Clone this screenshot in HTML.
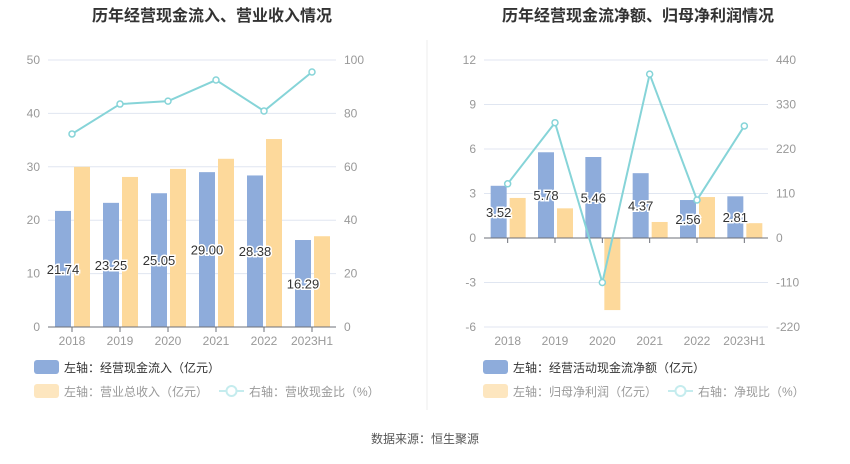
<!DOCTYPE html>
<html><head><meta charset="utf-8"><style>
body{margin:0;width:850px;height:459px;background:#fff;font-family:"Liberation Sans","Noto Sans CJK SC",sans-serif;overflow:hidden}
svg text{font-family:"Liberation Sans","Noto Sans CJK SC",sans-serif}
</style></head><body>
<svg id="c" width="850" height="459">
<text x="212" y="21" text-anchor="middle" font-size="16" font-weight="bold" fill="#333">历年经营现金流入、营业收入情况</text>
<text x="638" y="21" text-anchor="middle" font-size="16" font-weight="bold" fill="#333">历年经营现金流净额、归母净利润情况</text>
<line x1="427" y1="40" x2="427" y2="410" stroke="#eee"/>
<text x="425" y="443" text-anchor="middle" font-size="12" fill="#555">数据来源：恒生聚源</text>
</svg>
<script>
const categories=["2018","2019","2020","2021","2022","2023H1"];
const leftInflow=[21.74,23.25,25.05,29.00,28.38,16.29];
const leftRevenue=[30.0,28.1,29.6,31.5,35.2,17.0];
const leftRatio=[72.3,83.5,84.6,92.5,80.9,95.5];
const leftTicksL=[0,10,20,30,40,50];
const leftTicksR=[0,20,40,60,80,100];
const rightNetCash=[3.52,5.78,5.46,4.37,2.56,2.81];
const rightProfit=[2.7,2.0,-4.86,1.08,2.76,1.0];
const rightRatio=[134,285,-110,405,94,277];
const rightTicksL=[-6,-3,0,3,6,9,12];
const rightTicksR=[-220,-110,0,110,220,330,440];
const NS="http://www.w3.org/2000/svg";
const svg=document.getElementById('c');
function mk(tag,attrs,parent){const e=document.createElementNS(NS,tag);for(const k in attrs)e.setAttribute(k,attrs[k]);(parent||svg).appendChild(e);return e;}
function draw(o){
  const {x0,x1,yTop,yBot,lmin,lmax,rmin,rmax,ticksL,ticksR,blue,yellow,ratio,prefix,legend1,legend2,legend3,legX}=o;
  const yL=v=>yBot-(v-lmin)/(lmax-lmin)*(yBot-yTop);
  const yR=v=>yBot-(v-rmin)/(rmax-rmin)*(yBot-yTop);
  const bw=(x1-x0)/categories.length;
  const cx=i=>x0+bw*(i+0.5);
  ticksL.forEach((t,i)=>{
    const g=mk('line',{x1:x0,x2:x1,y1:yL(t),y2:yL(t),stroke:'#e0e6f1'});
    
    const a=mk('text',{x:x0-8,y:yL(t)+4,'text-anchor':'end','font-size':12,fill:'#999'});a.textContent=t;
    
    const b=mk('text',{x:x1+8,y:yR(ticksR[i])+4,'text-anchor':'start','font-size':12,fill:'#999'});b.textContent=ticksR[i];
    
  });
  const y0=yL(0);
  categories.forEach((c,i)=>{
    const bb=mk('rect',{x:cx(i)-17,y:Math.min(yL(blue[i]),y0),width:16,height:Math.abs(yL(blue[i])-y0),fill:'#8eacdb'});
    
    const yb=mk('rect',{x:cx(i)+2,y:Math.min(yL(yellow[i]),y0),width:16,height:Math.abs(yL(yellow[i])-y0),fill:'#fdd99b'});
    
    const tk=mk('line',{x1:cx(i),x2:cx(i),y1:y0,y2:y0+5,stroke:'#6e7079'});
    
    const xl=mk('text',{x:cx(i),y:yBot+18,'text-anchor':'middle','font-size':12,fill:'#999'});xl.textContent=c;
    
  });
  const ax=mk('line',{x1:x0,x2:x1,y1:y0,y2:y0,stroke:'#6e7079'});
  
  categories.forEach((c,i)=>{
    const v=blue[i];
    const lb=mk('text',{x:cx(i)-9,y:(yL(v)+y0)/2+5,'text-anchor':'middle','font-size':13,fill:'#333',stroke:'#fff','stroke-width':3,'paint-order':'stroke'});
    lb.textContent=v.toFixed(2);
    
  });
  const pts=ratio.map((v,i)=>cx(i)+','+yR(v)).join(' ');
  const pl=mk('polyline',{points:pts,fill:'none',stroke:'#86d4d8','stroke-width':2});
  
  ratio.forEach((v,i)=>{
    const p=mk('circle',{cx:cx(i),cy:yR(v),r:3,fill:'#fff',stroke:'#86d4d8','stroke-width':1.5});
    
  });
  // legend
  const s1=mk('rect',{x:legX,y:360,width:25,height:14,rx:3,fill:'#8eacdb'});
  
  const t1=mk('text',{x:legX+30,y:372,'font-size':12,fill:'#333'});t1.textContent=legend1;
  
  const s2=mk('rect',{x:legX,y:384,width:25,height:14,rx:3,fill:'#fde6bf'});
  
  const t2=mk('text',{x:legX+30,y:396,'font-size':12,fill:'#999'});t2.textContent=legend2;
  
  const lx=legX+(prefix==='left'?185:185);
  const l3=mk('line',{x1:lx,x2:lx+25,y1:391,y2:391,stroke:'#c5ecee','stroke-width':2});
  
  const c3=mk('circle',{cx:lx+12.5,cy:391,r:5,fill:'#fff',stroke:'#c5ecee','stroke-width':2});
  
  const t3=mk('text',{x:lx+30,y:396,'font-size':12,fill:'#999'});t3.textContent=legend3;
  
}
draw({x0:48,x1:336,yTop:60,yBot:327,lmin:0,lmax:50,rmin:0,rmax:100,ticksL:leftTicksL,ticksR:leftTicksR,blue:leftInflow,yellow:leftRevenue,ratio:leftRatio,prefix:'left',legend1:'左轴：经营现金流入（亿元）',legend2:'左轴：营业总收入（亿元）',legend3:'右轴：营收现金比（%）',legX:34});
draw({x0:484,x1:768,yTop:60,yBot:327,lmin:-6,lmax:12,rmin:-220,rmax:440,ticksL:rightTicksL,ticksR:rightTicksR,blue:rightNetCash,yellow:rightProfit,ratio:rightRatio,prefix:'right',legend1:'左轴：经营活动现金流净额（亿元）',legend2:'左轴：归母净利润（亿元）',legend3:'右轴：净现比（%）',legX:483});
</script>
</body></html>
